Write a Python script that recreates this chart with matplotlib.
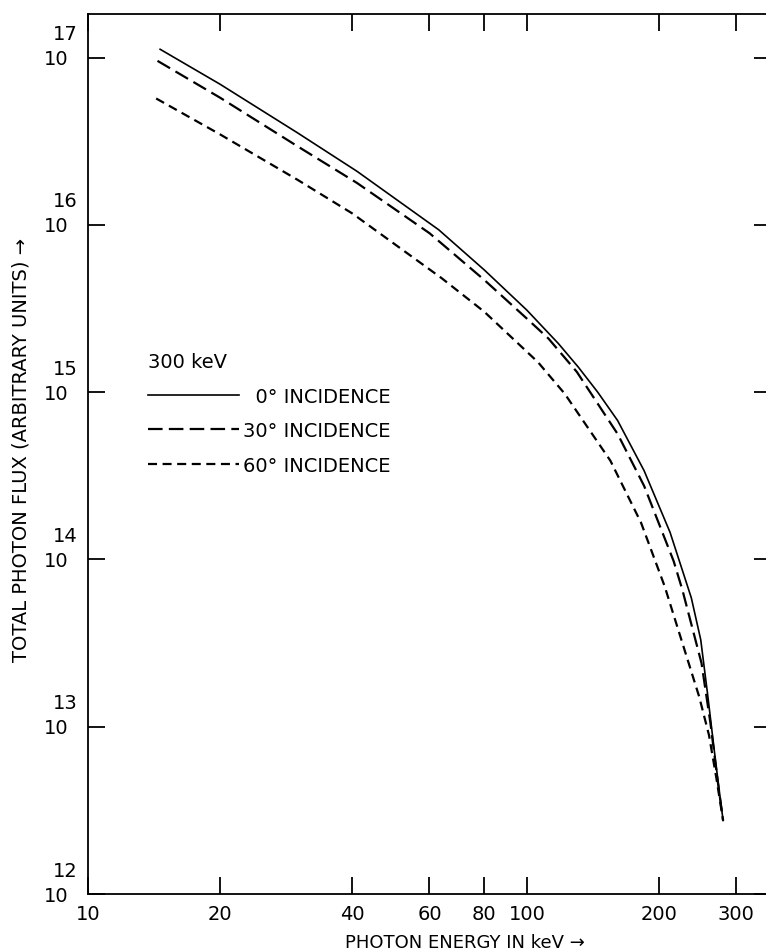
import matplotlib
matplotlib.use("Agg")
import matplotlib.pyplot as plt
from matplotlib.ticker import FixedLocator, FixedFormatter, NullLocator, NullFormatter
from matplotlib.lines import Line2D

# ---- data ----
energy_0 = [14.6, 20, 30, 41, 63, 80, 100, 118, 131, 145, 161, 185, 212, 237, 249, 258, 267, 274, 280]
flux_0 = [1.12e17, 6.92e16, 3.55e16, 2.09e16, 9.33e15, 5.37e15, 3.09e15, 1.95e15, 1.41e15,
          1.0e15, 6.76e14, 3.39e14, 1.45e14, 5.89e13, 3.31e13, 1.58e13, 7.41e12, 4.27e12, 2.75e12]

energy_30 = [14.4, 20, 30, 41, 60, 80, 100, 112, 130, 161, 185, 216, 226, 250, 262, 272, 280]
flux_30 = [9.55e16, 5.75e16, 2.95e16, 1.78e16, 8.91e15, 4.68e15, 2.75e15, 2.09e15, 1.32e15,
           5.62e14, 2.75e14, 9.77e13, 6.61e13, 2.4e13, 1.05e13, 4.79e12, 2.75e12]

energy_60 = [14.3, 20, 30, 40, 64, 80, 106, 122, 155, 182, 206, 247, 260, 270, 280]
flux_60 = [5.69e16, 3.47e16, 1.86e16, 1.17e16, 4.79e15, 3.02e15, 1.51e15, 9.77e14, 3.89e14,
           1.66e14, 6.92e13, 1.51e13, 8.91e12, 5.01e12, 2.75e12]

series_labels = ["  0° INCIDENCE", "30° INCIDENCE", "60° INCIDENCE"]
legend_title = "300 keV"

x_ticks = [10, 20, 40, 60, 80, 100, 200, 300]
x_tick_labels = ["10", "20", "40", "60", "80", "100", "200", "300"]
y_ticks = [1e12, 1e13, 1e14, 1e15, 1e16, 1e17]
y_exponents = ["12", "13", "14", "15", "16", "17"]

x_label = "PHOTON ENERGY IN keV →"
y_label = "TOTAL PHOTON FLUX (ARBITRARY UNITS) →"

# ---- style ----
plt.rcParams['font.family'] = ['DejaVu Sans']
plt.rcParams['lines.scale_dashes'] = False

W, H = 766, 953
fig = plt.figure(figsize=(W / 100, H / 100), dpi=100)
ax = fig.add_axes([88 / W, 58 / H, 683 / W, 880 / H])
ax.set_xscale('log')
ax.set_yscale('log')
ax.set_xlim(10, 360)
ax.set_ylim(1e12, 1.82e17)

style_0 = dict(color='black', lw=1.2, linestyle='-')
style_30 = dict(color='black', lw=1.6, linestyle=(0, (10.5, 4.5)))
style_60 = dict(color='black', lw=1.6, linestyle=(0, (6.5, 4.0)))

ax.plot(energy_0, flux_0, **style_0)
ax.plot(energy_30, flux_30, **style_30)
ax.plot(energy_60, flux_60, **style_60)

for s in ax.spines.values():
    s.set_linewidth(1.3)

ax.xaxis.set_major_locator(FixedLocator(x_ticks))
ax.xaxis.set_major_formatter(FixedFormatter(x_tick_labels))
ax.xaxis.set_minor_locator(NullLocator())
ax.yaxis.set_major_locator(FixedLocator(y_ticks))
ax.yaxis.set_major_formatter(NullFormatter())
ax.yaxis.set_minor_locator(NullLocator())
ax.tick_params(axis='both', which='major', direction='in', length=12, width=1.3,
               top=True, right=True, labelsize=14, pad=7)

for yv, ex in zip(y_ticks, y_exponents):
    ax.annotate("10", xy=(0, yv), xycoords=('axes fraction', 'data'),
                xytext=(-20, -1), textcoords='offset pixels',
                ha='right', va='center', fontsize=14)
    ax.annotate(ex, xy=(0, yv), xycoords=('axes fraction', 'data'),
                xytext=(-10, 24), textcoords='offset pixels',
                ha='right', va='center', fontsize=14)

ax.set_xlabel(x_label, fontsize=13, va='center')
ax.xaxis.set_label_coords((465 - 88) / 683, (953 - 943 - 58) / 880)
ax.set_ylabel(y_label, fontsize=14)
ax.yaxis.set_label_coords((31 - 88) / 683, 0.506)

handles = [Line2D([], [], **style_0), Line2D([], [], **style_30), Line2D([], [], **style_60)]
leg = ax.legend(handles, series_labels, title=legend_title, loc='upper left',
                bbox_to_anchor=((148 - 88) / 683, (600 - 58) / 880),
                frameon=False, fontsize=14, title_fontsize=14, handlelength=4.7,
                handletextpad=0.2, labelspacing=0.8, alignment='left',
                borderpad=0, borderaxespad=0)

fig.savefig("out.png", dpi=100)
